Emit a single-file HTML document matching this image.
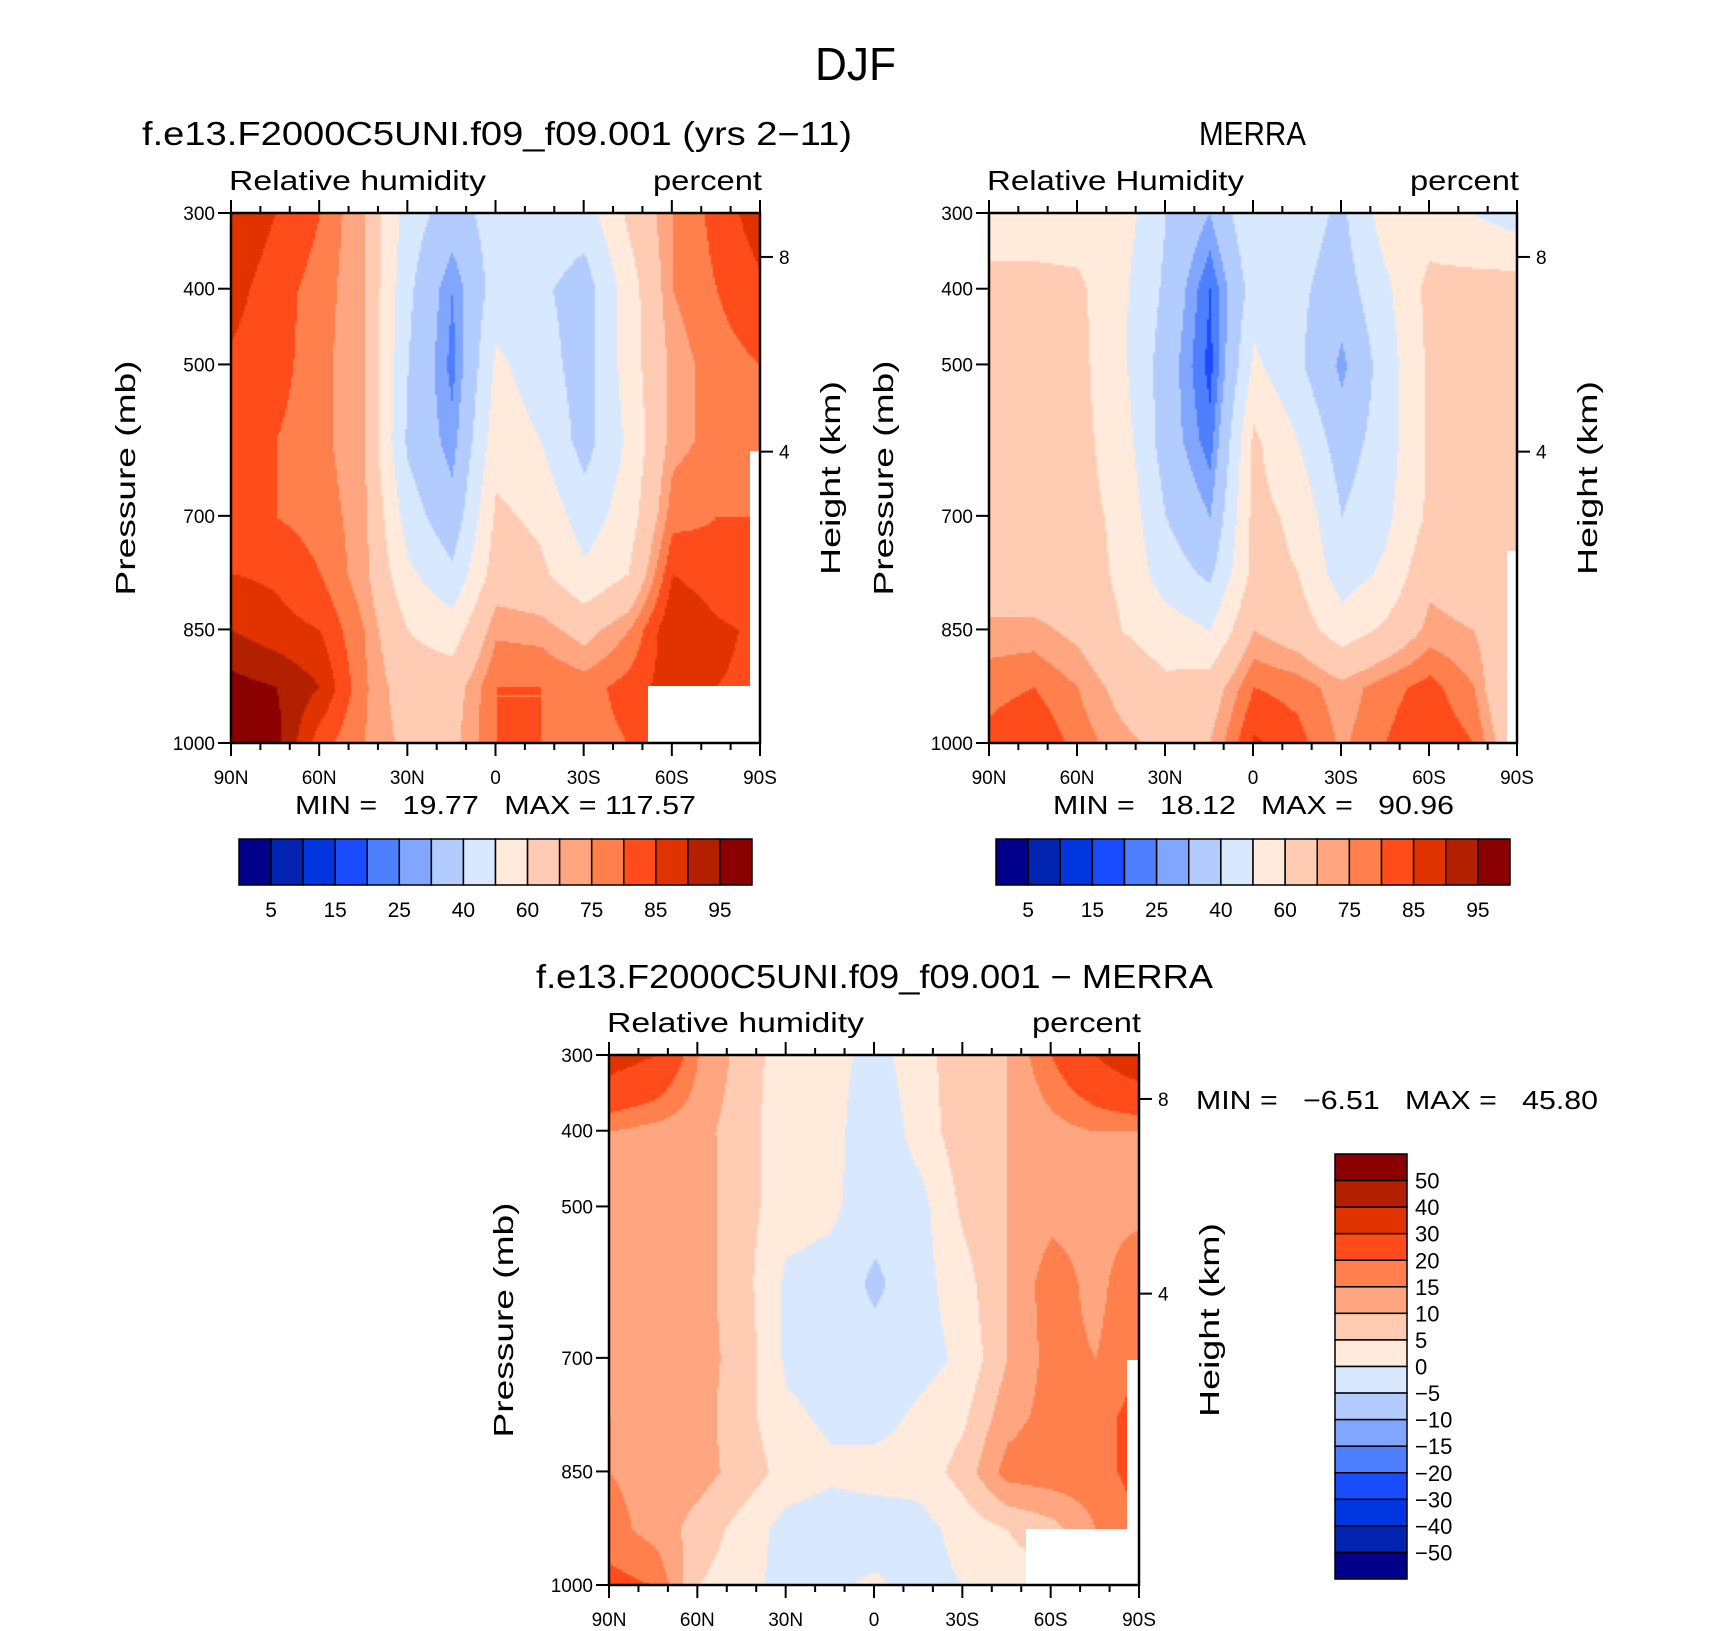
<!DOCTYPE html>
<html><head><meta charset="utf-8">
<style>
body{margin:0;background:#fff;}
#wrap{position:relative;width:1710px;height:1631px;overflow:hidden;font-family:"Liberation Sans",sans-serif;}
canvas{position:absolute;}
svg{position:absolute;left:0;top:0;}
text{font-family:"Liberation Sans",sans-serif;fill:#000;}
</style></head>
<body>
<div id="wrap">
<canvas id="c1"></canvas>
<canvas id="c2"></canvas>
<canvas id="c3"></canvas>
<svg id="s" width="1710" height="1631"></svg>
</div>
<script>
// ---- data ----
const latitudes = [90,75,60,45,30,15,0,-15,-30,-45,-60,-75,-90];
const pressures = [300,400,500,600,700,775,850,925,1000];
const modelRH = [
 [90,85,80,70,45,35,45,48,45,62,75,82,88],
 [87,82,78,70,42,25,45,42,35,55,75,80,84],
 [84,82,77,70,40,23,52,45,35,55,72,78,80],
 [83,80,77,70,38,27,56,50,36,52,73,77,78],
 [84,80,78,72,45,33,62,58,45,55,78,80,80],
 [85,84,80,72,52,42,65,62,52,60,85,82,80],
 [90,87,85,75,60,55,74,73,67,75,90,86,84],
 [97,95,90,76,65,66,80,80,78,82,88,85,84],
 [98,97,82,75,68,68,80,80,78,80,85,85,84]];
const merraRH = [
 [55,55,55,55,40,30,50,45,38,55,55,50,45],
 [63,63,62,52,38,20,45,42,35,48,63,64,65],
 [63,63,63,52,35,18,52,42,28,45,62,63,63],
 [63,63,63,55,35,22,62,50,35,45,62,63,63],
 [63,63,63,58,40,30,63,58,40,48,62,63,63],
 [63,63,65,58,45,38,63,60,45,52,68,65,63],
 [72,72,68,60,55,50,70,65,55,62,72,70,60],
 [78,80,75,67,62,65,80,78,72,78,82,75,55],
 [82,85,78,72,68,70,86,82,74,80,85,80,60]];
const diffRH = [
 [35,30,15,8,2,2,-2,3,8,10,20,30,38],
 [15,13,12,7,2,2,-4,2,8,10,13,15,15],
 [14,13,12,7,2,1,-3,-2,6,10,13,13,13],
 [14,13,12,7,-1,-2,-6,-2,3,10,18,13,20],
 [14,13,12,8,-1,-2,-3,-2,1,10,17,15,20],
 [15,13,12,7,1,-1,-2,1,4,13,17,18,22],
 [15,13,12,8,3,1,2,2,7,17,18,18,22],
 [17,13,8,3,-2,-3,-3,-2,2,5,8,15,20],
 [22,20,5,2,-2,-1,1,-2,0,3,3,3,3]];
const absLevels = [5,10,15,20,25,30,40,50,60,70,75,80,85,90,95];
const absLabels = ["5","15","25","40","60","75","85","95"];
const diffLevels = [-50,-40,-30,-20,-15,-10,-5,0,5,10,15,20,30,40,50];
const diffLabels = ["50","40","30","20","15","10","5","0","\u22125","\u221210","\u221215","\u221220","\u221230","\u221240","\u221250"];
const xTickLabels = ["90N","60N","30N","0","30S","60S","90S"];
const pTicks = [300,400,500,700,850,1000];
const kmTicks = [8,4];
const palette = ["#00008b","#0024b0","#0036e0","#1a4cff","#4d7fff","#80a6ff","#b3ccff","#d8e8ff","#ffeadb","#ffccb3","#ffa680","#ff7f4d","#ff4c1a","#e03300","#b32000","#8b0000"];

const NS="http://www.w3.org/2000/svg";
const svg=document.getElementById('s');
function el(tag,attrs,txt){const e=document.createElementNS(NS,tag);for(const k in attrs)e.setAttribute(k,attrs[k]);if(txt!==undefined)e.textContent=txt;svg.appendChild(e);return e;}
function colorFor(v,levels){let i=0;while(i<levels.length&&v>=levels[i])i++;return palette[i];}

const plots=[
 {id:'c1',data:modelRH,levels:absLevels,x0:231,x1:760,y0:213,y1:743,name:'model',
  masks:[[648,686,112,57],[750,451,10,292]]},
 {id:'c2',data:merraRH,levels:absLevels,x0:989,x1:1517,y0:213,y1:743,name:'merra',
  masks:[[1507,551,10,192]]},
 {id:'c3',data:diffRH,levels:diffLevels,x0:609,x1:1139,y0:1055,y1:1585,name:'difference',
  masks:[[1026,1529,113,56],[1127,1360,12,170]]}
];
function xScale(p,lat){return p.x0+(90-lat)/180*(p.x1-p.x0);}
function yScale(p,pr){return p.y0+(pr-300)/700*(p.y1-p.y0);}

function interp(data,lat,pr){
  let i=0;while(i<latitudes.length-2&&lat<latitudes[i+1])i++;
  let j=0;while(j<pressures.length-2&&pr>pressures[j+1])j++;
  const tx=(latitudes[i]-lat)/(latitudes[i]-latitudes[i+1]);
  const ty=(pr-pressures[j])/(pressures[j+1]-pressures[j]);
  const a=data[j][i],b=data[j][i+1],c=data[j+1][i],d=data[j+1][i+1];
  return (a*(1-tx)+b*tx)*(1-ty)+(c*(1-tx)+d*tx)*ty;
}
function fitText(t,w){t.setAttribute('textLength',w);t.setAttribute('lengthAdjust','spacingAndGlyphs');}

plots.forEach(p=>{
  const cv=document.getElementById(p.id);
  const W=p.x1-p.x0,H=p.y1-p.y0;
  cv.width=W;cv.height=H;cv.style.left=p.x0+'px';cv.style.top=p.y0+'px';
  const ctx=cv.getContext('2d');
  const step=2;
  for(let y=0;y<H;y+=step){for(let x=0;x<W;x+=step){
    const lat=90-x/W*180, pr=300+y/H*700;
    ctx.fillStyle=colorFor(interp(p.data,lat,pr),p.levels);
    ctx.fillRect(x,y,step,step);}}
  p.masks.forEach(m=>{
    const r=el('rect',{x:m[0],y:m[1],width:m[2],height:m[3],fill:'#fff'});
    
    
  });
  const f=el('rect',{x:p.x0,y:p.y0,width:W,height:H,fill:'none',stroke:'#000','stroke-width':2.5});
  
  
  for(let lat=90;lat>=-90;lat-=10){
    const x=xScale(p,lat);const major=(lat%30===0);const L=major?13:7;
    el('line',{x1:x,x2:x,y1:p.y1,y2:p.y1+L,stroke:'#000','stroke-width':2});
    el('line',{x1:x,x2:x,y1:p.y0,y2:p.y0-L,stroke:'#000','stroke-width':2});
  }
  xTickLabels.forEach((t,k)=>{
    const x=xScale(p,90-k*30);
    const tl=el('text',{x:x,y:p.y1+41,'text-anchor':'middle','font-size':19},t);
    
    
  });
  pTicks.forEach(pr=>{
    const y=yScale(p,pr);
    el('line',{x1:p.x0-13,x2:p.x0,y1:y,y2:y,stroke:'#000','stroke-width':2});
    const tl=el('text',{x:p.x0-16,y:y+7,'text-anchor':'end','font-size':19},String(pr));
    
    
  });
  kmTicks.forEach(km=>{
    const pr=1057*Math.exp(-km/7.39);
    const y=yScale(p,pr);
    el('line',{x1:p.x1,x2:p.x1+13,y1:y,y2:y,stroke:'#000','stroke-width':2});
    const tl=el('text',{x:p.x1+19,y:y+7,'font-size':19},String(km));
    
    
  });
  const cy=(p.y0+p.y1)/2;
  const yt=el('text',{x:0,y:0,'text-anchor':'middle','font-size':28,transform:`translate(${p.x0-96},${cy}) rotate(-90)`},'Pressure (mb)');
  fitText(yt,235);
  
  
  const ht=el('text',{x:0,y:0,'text-anchor':'middle','font-size':28,transform:`translate(${p.x1+80},${cy}) rotate(-90)`},'Height (km)');
  fitText(ht,194);
  
  
  const vn=el('text',{x:p.x0-2,y:p.y0-23,'font-size':28},p.name==='merra'?'Relative Humidity':'Relative humidity');
  fitText(vn,257);
  
  
  const un=el('text',{x:p.x1+2-109,y:p.y0-23,'font-size':28},'percent');
  fitText(un,109);
  
  
});

[[239,752,'model'],[996,1510,'merra']].forEach(cb=>{
  const n=palette.length,w=(cb[1]-cb[0])/n;
  palette.forEach((c,i)=>{
    const r=el('rect',{x:cb[0]+i*w,y:839,width:w,height:46,fill:c,stroke:'#000','stroke-width':1.5});
    
    
  });
  absLabels.forEach((t,k)=>{
    const tl=el('text',{x:cb[0]+(2*k+1)*w,y:917,'text-anchor':'middle','font-size':21},t);
    
    
  });
});
(function(){
  const x=1335,w=72,y0=1154,y1=1579,n=palette.length,h=(y1-y0)/n;
  palette.slice().reverse().forEach((c,i)=>{
    const r=el('rect',{x:x,y:y0+i*h,width:w,height:h,fill:c,stroke:'#000','stroke-width':1.5});
    
    
  });
  diffLabels.forEach((t,k)=>{
    const tl=el('text',{x:1415,y:y0+(k+1)*h+8,'font-size':22},t);
    
    
  });
})();

function label(x,y,size,txt,name,width){
  const t=el('text',{x:x,y:y,'font-size':size},txt);
  
  
  t.style.whiteSpace='pre';
  fitText(t,width);
  return t;
}
label(815,80,46,'DJF','figure-title',81);
label(142,145,33,'f.e13.F2000C5UNI.f09_f09.001 (yrs 2\u221211)','model-panel-title',710);
label(1199,145,33,'MERRA','merra-panel-title',107);
label(536,988,33,'f.e13.F2000C5UNI.f09_f09.001 \u2212 MERRA','difference-panel-title',677);
label(295,814,26,'MIN =   19.77   MAX = 117.57','model-min-max',401);
label(1053,814,26,'MIN =   18.12   MAX =   90.96','merra-min-max',401);
label(1196,1109,26,'MIN =   \u22126.51   MAX =   45.80','difference-min-max',402);
</script>
</body></html>
